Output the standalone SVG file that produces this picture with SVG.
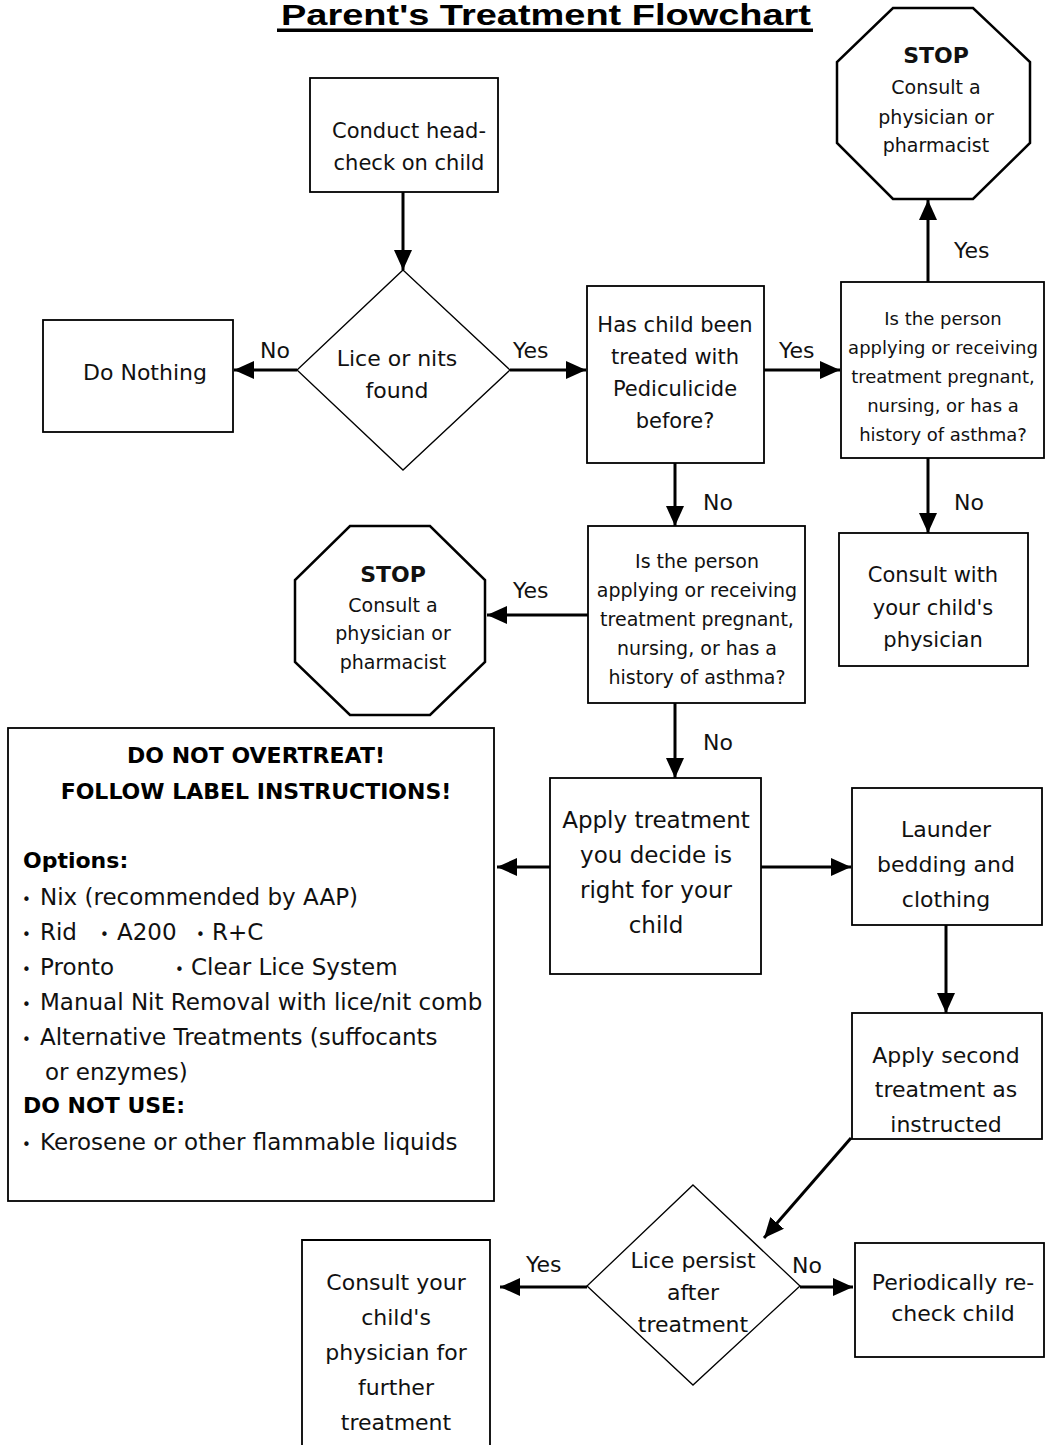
<svg xmlns="http://www.w3.org/2000/svg" width="1045" height="1445" viewBox="0 0 1045 1445">
<style>
.box{fill:#fff;stroke:#000;stroke-width:1.8}
.dia{fill:#fff;stroke:#000;stroke-width:1.3}
.oct{fill:#fff;stroke:#000;stroke-width:2.5}
.t{font-family:"DejaVu Sans",sans-serif;font-size:21px;fill:#111;text-anchor:middle}
.s18{font-size:18px}
.s19{font-size:19px}
.s22{font-size:22px}
.s23{font-size:23px}
.b{font-weight:bold}
.lbl{font-family:"DejaVu Sans",sans-serif;font-size:22px;fill:#111}
.opt{font-family:"DejaVu Sans",sans-serif;font-size:23px;fill:#111}
.hd{font-family:"DejaVu Sans",sans-serif;font-size:22px;font-weight:bold;fill:#000}
.bul{font-size:15px}
.conn line{stroke:#000;stroke-width:3;marker-end:url(#ah)}
</style>
<defs>
<marker id="ah" markerUnits="userSpaceOnUse" markerWidth="20" markerHeight="18" refX="20" refY="9" orient="auto">
<path d="M0,0 L20,9 L0,18 Z" fill="#000"/>
</marker>
</defs>

<g id="title">
<text x="281" y="25" font-family="'Liberation Sans',Arial,sans-serif" font-size="30" font-weight="bold" fill="#000" textLength="530" lengthAdjust="spacingAndGlyphs">Parent's Treatment Flowchart</text>
<rect x="277" y="28.5" width="536" height="3.5" fill="#000"/>
</g>

<g id="connectors" class="conn">
<line x1="403" y1="192" x2="403" y2="270"/>
<line x1="297" y1="370" x2="234" y2="370"/>
<line x1="510" y1="370" x2="586" y2="370"/>
<line x1="764" y1="370" x2="840" y2="370"/>
<line x1="928" y1="282" x2="928" y2="200"/>
<line x1="928" y1="458" x2="928" y2="533"/>
<line x1="675" y1="463" x2="675" y2="526"/>
<line x1="588" y1="615" x2="487" y2="615"/>
<line x1="675" y1="703" x2="675" y2="778"/>
<line x1="761" y1="867" x2="851" y2="867"/>
<line x1="550" y1="867" x2="497" y2="867"/>
<line x1="946" y1="925" x2="946" y2="1013"/>
<line x1="851" y1="1138" x2="764" y2="1238"/>
<line x1="587" y1="1287" x2="500" y2="1287"/>
<line x1="800" y1="1287" x2="853" y2="1287"/>
</g>

<g id="edge-labels">
<text class="lbl" x="260" y="358">No</text>
<text class="lbl" x="513" y="358">Yes</text>
<text class="lbl" x="779" y="358">Yes</text>
<text class="lbl" x="954" y="258">Yes</text>
<text class="lbl" x="954" y="510">No</text>
<text class="lbl" x="703" y="510">No</text>
<text class="lbl" x="513" y="598">Yes</text>
<text class="lbl" x="703" y="750">No</text>
<text class="lbl" x="526" y="1272">Yes</text>
<text class="lbl" x="792" y="1273">No</text>
</g>

<g id="stop-top">
<polygon class="oct" points="893,8 973,8 1030,62 1030,143 973,199 893,199 837,143 837,62"/>
<text class="t b s22" x="936" y="63">STOP</text>
<text class="t s19" x="936" y="94">Consult a</text>
<text class="t s19" x="936" y="124">physician or</text>
<text class="t s19" x="936" y="152">pharmacist</text>
</g>

<g id="conduct">
<rect class="box" x="310" y="78" width="188" height="114"/>
<text class="t" x="409" y="138">Conduct head-</text>
<text class="t" x="409" y="170">check on child</text>
</g>

<g id="lice-found">
<polygon class="dia" points="403,270 510,370 403,470 297,370"/>
<text class="t s22" x="397" y="366">Lice or nits</text>
<text class="t s22" x="397" y="398">found</text>
</g>

<g id="do-nothing">
<rect class="box" x="43" y="320" width="190" height="112"/>
<text class="t s22" x="145" y="380">Do Nothing</text>
</g>

<g id="treated-before">
<rect class="box" x="587" y="286" width="177" height="177"/>
<text class="t" x="675" y="332">Has child been</text>
<text class="t" x="675" y="364">treated with</text>
<text class="t" x="675" y="396">Pediculicide</text>
<text class="t" x="675" y="428">before?</text>
</g>

<g id="pregnant-1">
<rect class="box" x="841" y="282" width="203" height="176"/>
<text class="t s18" x="943" y="325">Is the person</text>
<text class="t s18" x="943" y="354">applying or receiving</text>
<text class="t s18" x="943" y="383">treatment pregnant,</text>
<text class="t s18" x="943" y="412">nursing, or has a</text>
<text class="t s18" x="943" y="441">history of asthma?</text>
</g>

<g id="consult-with">
<rect class="box" x="839" y="533" width="189" height="133"/>
<text class="t" x="933" y="582">Consult with</text>
<text class="t" x="933" y="615">your child's</text>
<text class="t" x="933" y="647">physician</text>
</g>

<g id="pregnant-2">
<rect class="box" x="588" y="526" width="217" height="177"/>
<text class="t s19" x="697" y="568">Is the person</text>
<text class="t s19" x="697" y="597">applying or receiving</text>
<text class="t s19" x="697" y="626">treatment pregnant,</text>
<text class="t s19" x="697" y="655">nursing, or has a</text>
<text class="t s19" x="697" y="684">history of asthma?</text>
</g>

<g id="stop-mid">
<polygon class="oct" points="350,526 430,526 485,580 485,662 430,715 350,715 295,662 295,580"/>
<text class="t b s22" x="393" y="582">STOP</text>
<text class="t s19" x="393" y="612">Consult a</text>
<text class="t s19" x="393" y="640">physician or</text>
<text class="t s19" x="393" y="669">pharmacist</text>
</g>

<g id="options">
<rect class="box" x="8" y="728" width="486" height="473"/>
<text class="hd" x="256" y="763" text-anchor="middle">DO NOT OVERTREAT!</text>
<text class="hd" x="256" y="799" text-anchor="middle">FOLLOW LABEL INSTRUCTIONS!</text>
<text class="hd" x="23" y="868">Options:</text>
<text class="opt" y="905"><tspan class="bul" x="22">•</tspan><tspan x="40">Nix (recommended by AAP)</tspan></text>
<text class="opt" y="940"><tspan class="bul" x="22">•</tspan><tspan x="40">Rid</tspan><tspan class="bul" x="100">•</tspan><tspan x="117">A200</tspan><tspan class="bul" x="196">•</tspan><tspan x="212">R+C</tspan></text>
<text class="opt" y="975"><tspan class="bul" x="22">•</tspan><tspan x="40">Pronto</tspan><tspan class="bul" x="175">•</tspan><tspan x="191">Clear Lice System</tspan></text>
<text class="opt" y="1010"><tspan class="bul" x="22">•</tspan><tspan x="40">Manual Nit Removal with lice/nit comb</tspan></text>
<text class="opt" y="1045"><tspan class="bul" x="22">•</tspan><tspan x="40">Alternative Treatments (suffocants</tspan></text>
<text class="opt" x="45" y="1080">or enzymes)</text>
<text class="hd" x="23" y="1113">DO NOT USE:</text>
<text class="opt" y="1150"><tspan class="bul" x="22">•</tspan><tspan x="40">Kerosene or other flammable liquids</tspan></text>
</g>

<g id="apply-treatment">
<rect class="box" x="550" y="778" width="211" height="196"/>
<text class="t s23" x="656" y="828">Apply treatment</text>
<text class="t s23" x="656" y="863">you decide is</text>
<text class="t s23" x="656" y="898">right for your</text>
<text class="t s23" x="656" y="933">child</text>
</g>

<g id="launder">
<rect class="box" x="852" y="788" width="190" height="137"/>
<text class="t s22" x="946" y="837">Launder</text>
<text class="t s22" x="946" y="872">bedding and</text>
<text class="t s22" x="946" y="907">clothing</text>
</g>

<g id="second-treatment">
<rect class="box" x="852" y="1013" width="190" height="126"/>
<text class="t s22" x="946" y="1063">Apply second</text>
<text class="t s22" x="946" y="1097">treatment as</text>
<text class="t s22" x="946" y="1132">instructed</text>
</g>

<g id="lice-persist">
<polygon class="dia" points="693,1185 800,1286 693,1385 587,1286"/>
<text class="t s22" x="693" y="1268">Lice persist</text>
<text class="t s22" x="693" y="1300">after</text>
<text class="t s22" x="693" y="1332">treatment</text>
</g>

<g id="consult-further">
<path class="box" d="M302,1446 V1240 H490 V1446"/>
<text class="t s22" x="396" y="1290">Consult your</text>
<text class="t s22" x="396" y="1325">child's</text>
<text class="t s22" x="396" y="1360">physician for</text>
<text class="t s22" x="396" y="1395">further</text>
<text class="t s22" x="396" y="1430">treatment</text>
</g>

<g id="recheck">
<rect class="box" x="855" y="1243" width="189" height="114"/>
<text class="t s22" x="953" y="1290">Periodically re-</text>
<text class="t s22" x="953" y="1321">check child</text>
</g>
</svg>
